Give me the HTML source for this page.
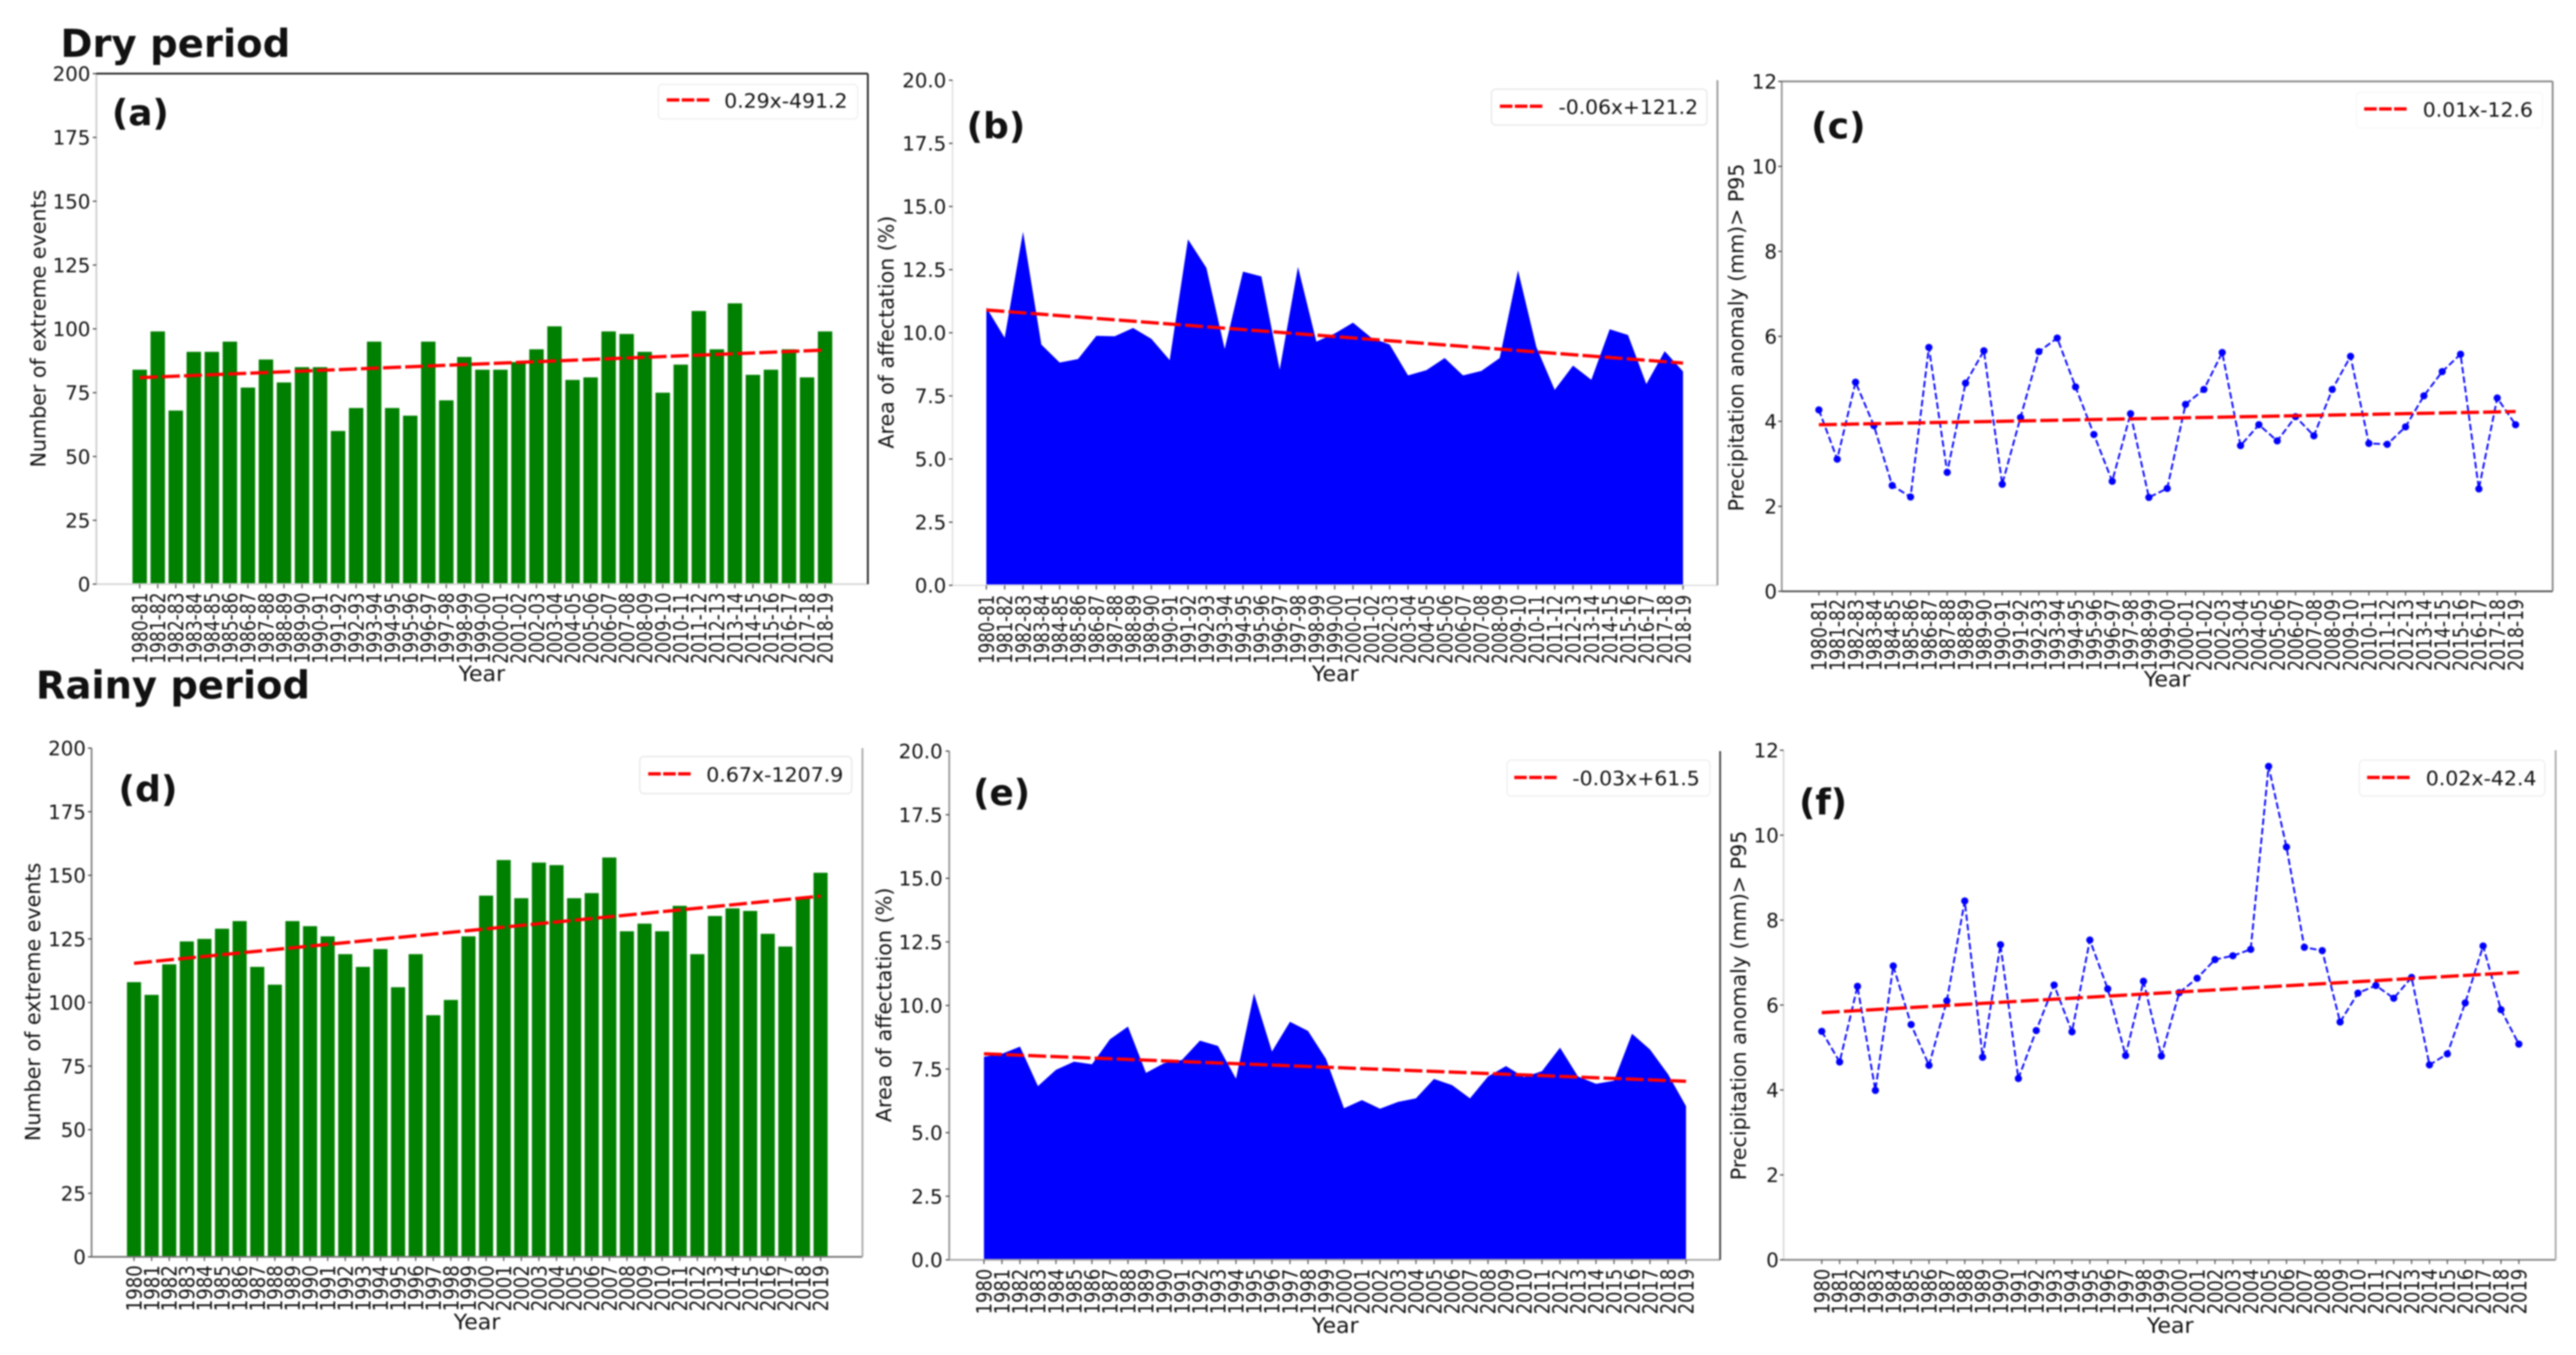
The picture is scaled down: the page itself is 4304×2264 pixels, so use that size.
<!DOCTYPE html>
<html lang="en">
<head>
<meta charset="utf-8">
<title>Extreme precipitation events, dry and rainy periods</title>
<style>
html,body{margin:0;padding:0;background:#fff;}
svg{display:block;filter:blur(1.4px);}
text{font-family:"DejaVu Sans","Liberation Sans",sans-serif;fill:#111;}
</style>
</head>
<body>
<svg id="figure" xmlns="http://www.w3.org/2000/svg" width="4304" height="2264" viewBox="0 0 4304 2264">
<rect x="0" y="0" width="4304" height="2264" fill="#fff"/>
<text x="101" y="95" font-size="64" font-weight="700" textLength="384" lengthAdjust="spacingAndGlyphs">Dry period</text>
<text x="60" y="1167" font-size="64" font-weight="700" textLength="458" lengthAdjust="spacingAndGlyphs">Rainy period</text>
</svg>
<script>
const categoriesDry = ["1980-81","1981-82","1982-83","1983-84","1984-85","1985-86","1986-87","1987-88","1988-89","1989-90","1990-91","1991-92","1992-93","1993-94","1994-95","1995-96","1996-97","1997-98","1998-99","1999-00","2000-01","2001-02","2002-03","2003-04","2004-05","2005-06","2006-07","2007-08","2008-09","2009-10","2010-11","2011-12","2012-13","2013-14","2014-15","2015-16","2016-17","2017-18","2018-19"];
const categoriesRainy = ["1980","1981","1982","1983","1984","1985","1986","1987","1988","1989","1990","1991","1992","1993","1994","1995","1996","1997","1998","1999","2000","2001","2002","2003","2004","2005","2006","2007","2008","2009","2010","2011","2012","2013","2014","2015","2016","2017","2018","2019"];

const ticksCount = ["0","25","50","75","100","125","150","175","200"];
const ticksArea = ["0.0","2.5","5.0","7.5","10.0","12.5","15.0","17.5","20.0"];
const ticksPrecip = ["0","2","4","6","8","10","12"];

const eventsDry = [84,99,68,91,91,95,77,88,79,85,85,60,69,95,69,66,95,72,89,84,84,87,92,101,80,81,99,98,91,75,86,107,92,110,82,84,92,81,99];
const areaDry = [11.0,9.8,14.0,9.53,8.82,8.96,9.88,9.86,10.19,9.76,8.92,13.7,12.57,9.36,12.42,12.23,8.54,12.61,9.65,9.97,10.4,9.8,9.53,8.31,8.52,9.0,8.31,8.49,9.0,12.47,9.44,7.74,8.7,8.14,10.14,9.91,7.97,9.27,8.47];
const precipDry = [4.27,3.11,4.92,3.9,2.49,2.22,5.74,2.8,4.9,5.66,2.52,4.09,5.64,5.96,4.81,3.69,2.59,4.18,2.21,2.42,4.4,4.75,5.62,3.43,3.92,3.54,4.11,3.66,4.75,5.53,3.48,3.46,3.87,4.6,5.17,5.58,2.41,4.55,3.92];

const eventsRainy = [108,103,115,124,125,129,132,114,107,132,130,126,119,114,121,106,119,95,101,126,142,156,141,155,154,141,143,157,128,131,128,138,119,134,137,136,127,122,141,151];
const areaRainy = [7.98,8.1,8.38,6.83,7.47,7.79,7.69,8.67,9.17,7.35,7.73,7.86,8.62,8.41,7.12,10.47,8.19,9.36,9.0,7.9,5.96,6.28,5.94,6.21,6.35,7.11,6.87,6.35,7.21,7.62,7.18,7.42,8.34,7.21,6.92,7.04,8.89,8.27,7.3,6.04];
const precipRainy = [5.38,4.66,6.44,3.99,6.92,5.54,4.58,6.1,8.45,4.77,7.42,4.27,5.4,6.47,5.37,7.53,6.38,4.81,6.56,4.8,6.29,6.63,7.07,7.16,7.31,11.62,9.72,7.36,7.28,5.6,6.28,6.46,6.16,6.65,4.59,4.85,6.05,7.39,5.89,5.08];

const trendEventsDry = [80.9,91.7];
const trendAreaDry = [10.9,8.8];
const trendPrecipDry = [3.92,4.23];
const trendEventsRainy = [115.4,141.8];
const trendAreaRainy = [8.1,7.02];
const trendPrecipRainy = [5.82,6.77];

const SVG_NS = "http://www.w3.org/2000/svg";
const figure = document.getElementById("figure");

function make(parent, tag, attrs) {
  const node = document.createElementNS(SVG_NS, tag);
  for (const key in attrs) node.setAttribute(key, attrs[key]);
  parent.appendChild(node);
  return node;
}

function makeText(parent, str, x, y, size, opts) {
  const o = opts || {};
  const attrs = { x: x, y: y, "font-size": size };
  if (o.weight) attrs["font-weight"] = o.weight;
  if (o.anchor) attrs["text-anchor"] = o.anchor;
  if (o.rotate) attrs.transform = "rotate(-90 " + x + " " + y + ")";
  if (o.len) { attrs.textLength = o.len; attrs.lengthAdjust = "spacingAndGlyphs"; }
  const node = make(parent, "text", attrs);
  node.textContent = str;
  return node;
}

function drawPanel(p) {
  const g = make(figure, "g", {});
  
  

  const n = p.categories.length;
  const yMax = Number(p.ticks[p.ticks.length - 1]);
  const xAt = (i) => p.firstX + i * (p.lastX - p.firstX) / (n - 1);
  const yAt = (v) => p.bottom - v * (p.bottom - p.top) / yMax;
  const barW = 0.8 * (p.lastX - p.firstX) / (n - 1);

  if (p.kind === "bar") {
    p.values.forEach((v, i) => {
      const bar = make(g, "rect", { x: xAt(i) - barW / 2, y: yAt(v), width: barW, height: p.bottom - yAt(v), fill: "#008000" });
      
      
    });
  }
  if (p.kind === "area") {
    const pts = p.values.map((v, i) => "L" + xAt(i).toFixed(1) + " " + yAt(v).toFixed(1)).join(" ");
    const area = make(g, "path", { d: "M" + xAt(0) + " " + p.bottom + " " + pts + " L" + xAt(n - 1) + " " + p.bottom + " Z", fill: "#0000ff" });
    
    
  }
  if (p.kind === "line") {
    const pts = p.values.map((v, i) => xAt(i).toFixed(1) + "," + yAt(v).toFixed(1)).join(" ");
    const line = make(g, "polyline", { points: pts, fill: "none", stroke: "#0000ff", "stroke-width": 3, "stroke-dasharray": "11 5" });
    
    
    p.values.forEach((v, i) => {
      const dot = make(g, "circle", { cx: xAt(i), cy: yAt(v), r: 6, fill: "#0000ff" });
      
      
    });
  }

  p.spines.forEach((s) => {
    const c = { left: [p.left, p.top, p.left, p.bottom], right: [p.right, p.top, p.right, p.bottom], top: [p.left, p.top, p.right, p.top], bottom: [p.left, p.bottom, p.right, p.bottom] }[s.side];
    const spine = make(g, "line", { x1: c[0], y1: c[1], x2: c[2], y2: c[3], stroke: s.color, "stroke-width": 3 });
    
    
  });

  p.ticks.forEach((label) => {
    const y = yAt(Number(label));
    const mark = make(g, "line", { x1: p.left - 6, y1: y, x2: p.left, y2: y, stroke: "#444", "stroke-width": 2 });
    
    
    const tick = makeText(g, label, p.tickRight, y + 12, 33, { anchor: "end" });
    
    
  });

  p.categories.forEach((label, i) => {
    const x = xAt(i);
    const mark = make(g, "line", { x1: x, y1: p.bottom, x2: x, y2: p.bottom + 7, stroke: "#555", "stroke-width": 2 });
    
    
    const tick = makeText(g, label, x + 12.5, p.xLabelTop, 35, { anchor: "end", rotate: true, len: p.xLabelLen });
    
    
  });

  const xTitle = makeText(g, "Year", p.xTitleX, p.xTitleY, 36, { anchor: "middle", len: 78 });
  
  

  const yTitle = makeText(g, p.yTitle, p.yTitleX, p.yTitleMid, 35, { anchor: "middle", rotate: true, len: p.yTitleLen });
  
  

  const trend = make(g, "line", { x1: xAt(0), y1: yAt(p.trend[0]), x2: xAt(n - 1), y2: yAt(p.trend[1]), stroke: "#ff0000", "stroke-width": 5.5, "stroke-dasharray": "30 7" });
  
  

  const lb = p.legend;
  const box = make(g, "rect", { x: lb.x, y: lb.y, width: lb.w, height: lb.h, rx: 7, fill: "#fff", stroke: lb.edge, "stroke-width": 2 });
  
  
  const key = make(g, "line", { x1: lb.lineX, y1: lb.lineY, x2: lb.lineX + 71, y2: lb.lineY, stroke: "#ff0000", "stroke-width": 5.5, "stroke-dasharray": "21 4" });
  
  
  const legendLabel = makeText(g, lb.label, lb.textX, lb.lineY + 13, 33, { len: lb.textLen });
  
  

  const tag = makeText(g, p.tag, p.tagX, p.tagY, 60, { weight: 700, len: p.tagLen });
  
  
}

drawPanel({ id: "a", kind: "bar", categories: categoriesDry, values: eventsDry, trend: trendEventsDry, ticks: ticksCount,
  left: 161, right: 1450, top: 123, bottom: 976, firstX: 233.4, lastX: 1378.5, tickRight: 151,
  spines: [{side:"left",color:"#cfcfcf"},{side:"bottom",color:"#d8d8d8"},{side:"top",color:"#222"},{side:"right",color:"#222"}],
  xLabelTop: 990, xLabelLen: 119, xTitleX: 805, xTitleY: 1138,
  yTitle: "Number of extreme events", yTitleX: 76, yTitleMid: 549, yTitleLen: 464,
  legend: { x:1100, y:141, w:333, h:58, edge:"#eeeeee", lineX:1114, lineY:167, textX:1210, textLen:206, label:"0.29x-491.2" },
  tag: "(a)", tagX: 187, tagY: 209, tagLen: 95 });

drawPanel({ id: "b", kind: "area", categories: categoriesDry, values: areaDry, trend: trendAreaDry, ticks: ticksArea,
  left: 1591.5, right: 2869.5, top: 134, bottom: 978, firstX: 1648, lastX: 2812, tickRight: 1581,
  spines: [{side:"left",color:"#e4e4e4"},{side:"bottom",color:"#e4e4e4"},{side:"right",color:"#999"}],
  xLabelTop: 994, xLabelLen: 115, xTitleX: 2231, xTitleY: 1138,
  yTitle: "Area of affectation (%)", yTitleX: 1493, yTitleMid: 555, yTitleLen: 389,
  legend: { x:2492, y:149, w:360, h:60, edge:"#e6e6e6", lineX:2506, lineY:177.5, textX:2604, textLen:233, label:"-0.06x+121.2" },
  tag: "(b)", tagX: 1615, tagY: 231, tagLen: 98 });

drawPanel({ id: "c", kind: "line", categories: categoriesDry, values: precipDry, trend: trendPrecipDry, ticks: ticksPrecip,
  left: 2977, right: 4265, top: 136, bottom: 988, firstX: 3039, lastX: 4203, tickRight: 2969,
  spines: [{side:"left",color:"#999"},{side:"bottom",color:"#555"},{side:"top",color:"#888"},{side:"right",color:"#888"}],
  xLabelTop: 1001, xLabelLen: 120, xTitleX: 3621, xTitleY: 1147,
  yTitle: "Precipitation anomaly (mm)> P95", yTitleX: 2913, yTitleMid: 564, yTitleLen: 581,
  legend: { x:3937, y:154, w:311, h:60, edge:"#f7f7f7", lineX:3950, lineY:182, textX:4048, textLen:184, label:"0.01x-12.6" },
  tag: "(c)", tagX: 3026, tagY: 231, tagLen: 91 });

drawPanel({ id: "d", kind: "bar", categories: categoriesRainy, values: eventsRainy, trend: trendEventsRainy, ticks: ticksCount,
  left: 153, right: 1441, top: 1250, bottom: 2100, firstX: 223.9, lastX: 1371, tickRight: 143.5,
  spines: [{side:"left",color:"#888"},{side:"bottom",color:"#777"},{side:"right",color:"#aaa"}],
  xLabelTop: 2114, xLabelLen: 77, xTitleX: 797, xTitleY: 2221,
  yTitle: "Number of extreme events", yTitleX: 67, yTitleMid: 1674, yTitleLen: 465,
  legend: { x:1069, y:1264, w:354, h:62, edge:"#e6e6e6", lineX:1083, lineY:1293, textX:1180, textLen:229, label:"0.67x-1207.9" },
  tag: "(d)", tagX: 198, tagY: 1339, tagLen: 98.5 });

drawPanel({ id: "e", kind: "area", categories: categoriesRainy, values: areaRainy, trend: trendAreaRainy, ticks: ticksArea,
  left: 1586, right: 2874, top: 1255, bottom: 2105, firstX: 1644, lastX: 2817, tickRight: 1575,
  spines: [{side:"left",color:"#999"},{side:"bottom",color:"#aaa"},{side:"right",color:"#444"}],
  xLabelTop: 2120, xLabelLen: 76, xTitleX: 2231, xTitleY: 2227,
  yTitle: "Area of affectation (%)", yTitleX: 1489, yTitleMid: 1679, yTitleLen: 392,
  legend: { x:2518, y:1270, w:339, h:60, edge:"#eeeeee", lineX:2530, lineY:1299, textX:2627, textLen:213, label:"-0.03x+61.5" },
  tag: "(e)", tagX: 1626, tagY: 1345, tagLen: 95 });

drawPanel({ id: "f", kind: "line", categories: categoriesRainy, values: precipRainy, trend: trendPrecipRainy, ticks: ticksPrecip,
  left: 2980, right: 4270, top: 1253.5, bottom: 2105, firstX: 3043.8, lastX: 4208.5, tickRight: 2972,
  spines: [{side:"left",color:"#ddd"},{side:"bottom",color:"#888"},{side:"right",color:"#aaa"}],
  xLabelTop: 2120, xLabelLen: 76, xTitleX: 3626, xTitleY: 2227,
  yTitle: "Precipitation anomaly (mm)> P95", yTitleX: 2917, yTitleMid: 1680, yTitleLen: 584,
  legend: { x:3942, y:1270, w:310, h:60, edge:"#eeeeee", lineX:3955, lineY:1299, textX:4053, textLen:185, label:"0.02x-42.4" },
  tag: "(f)", tagX: 3006, tagY: 1361, tagLen: 80 });
</script>
</body>
</html>
